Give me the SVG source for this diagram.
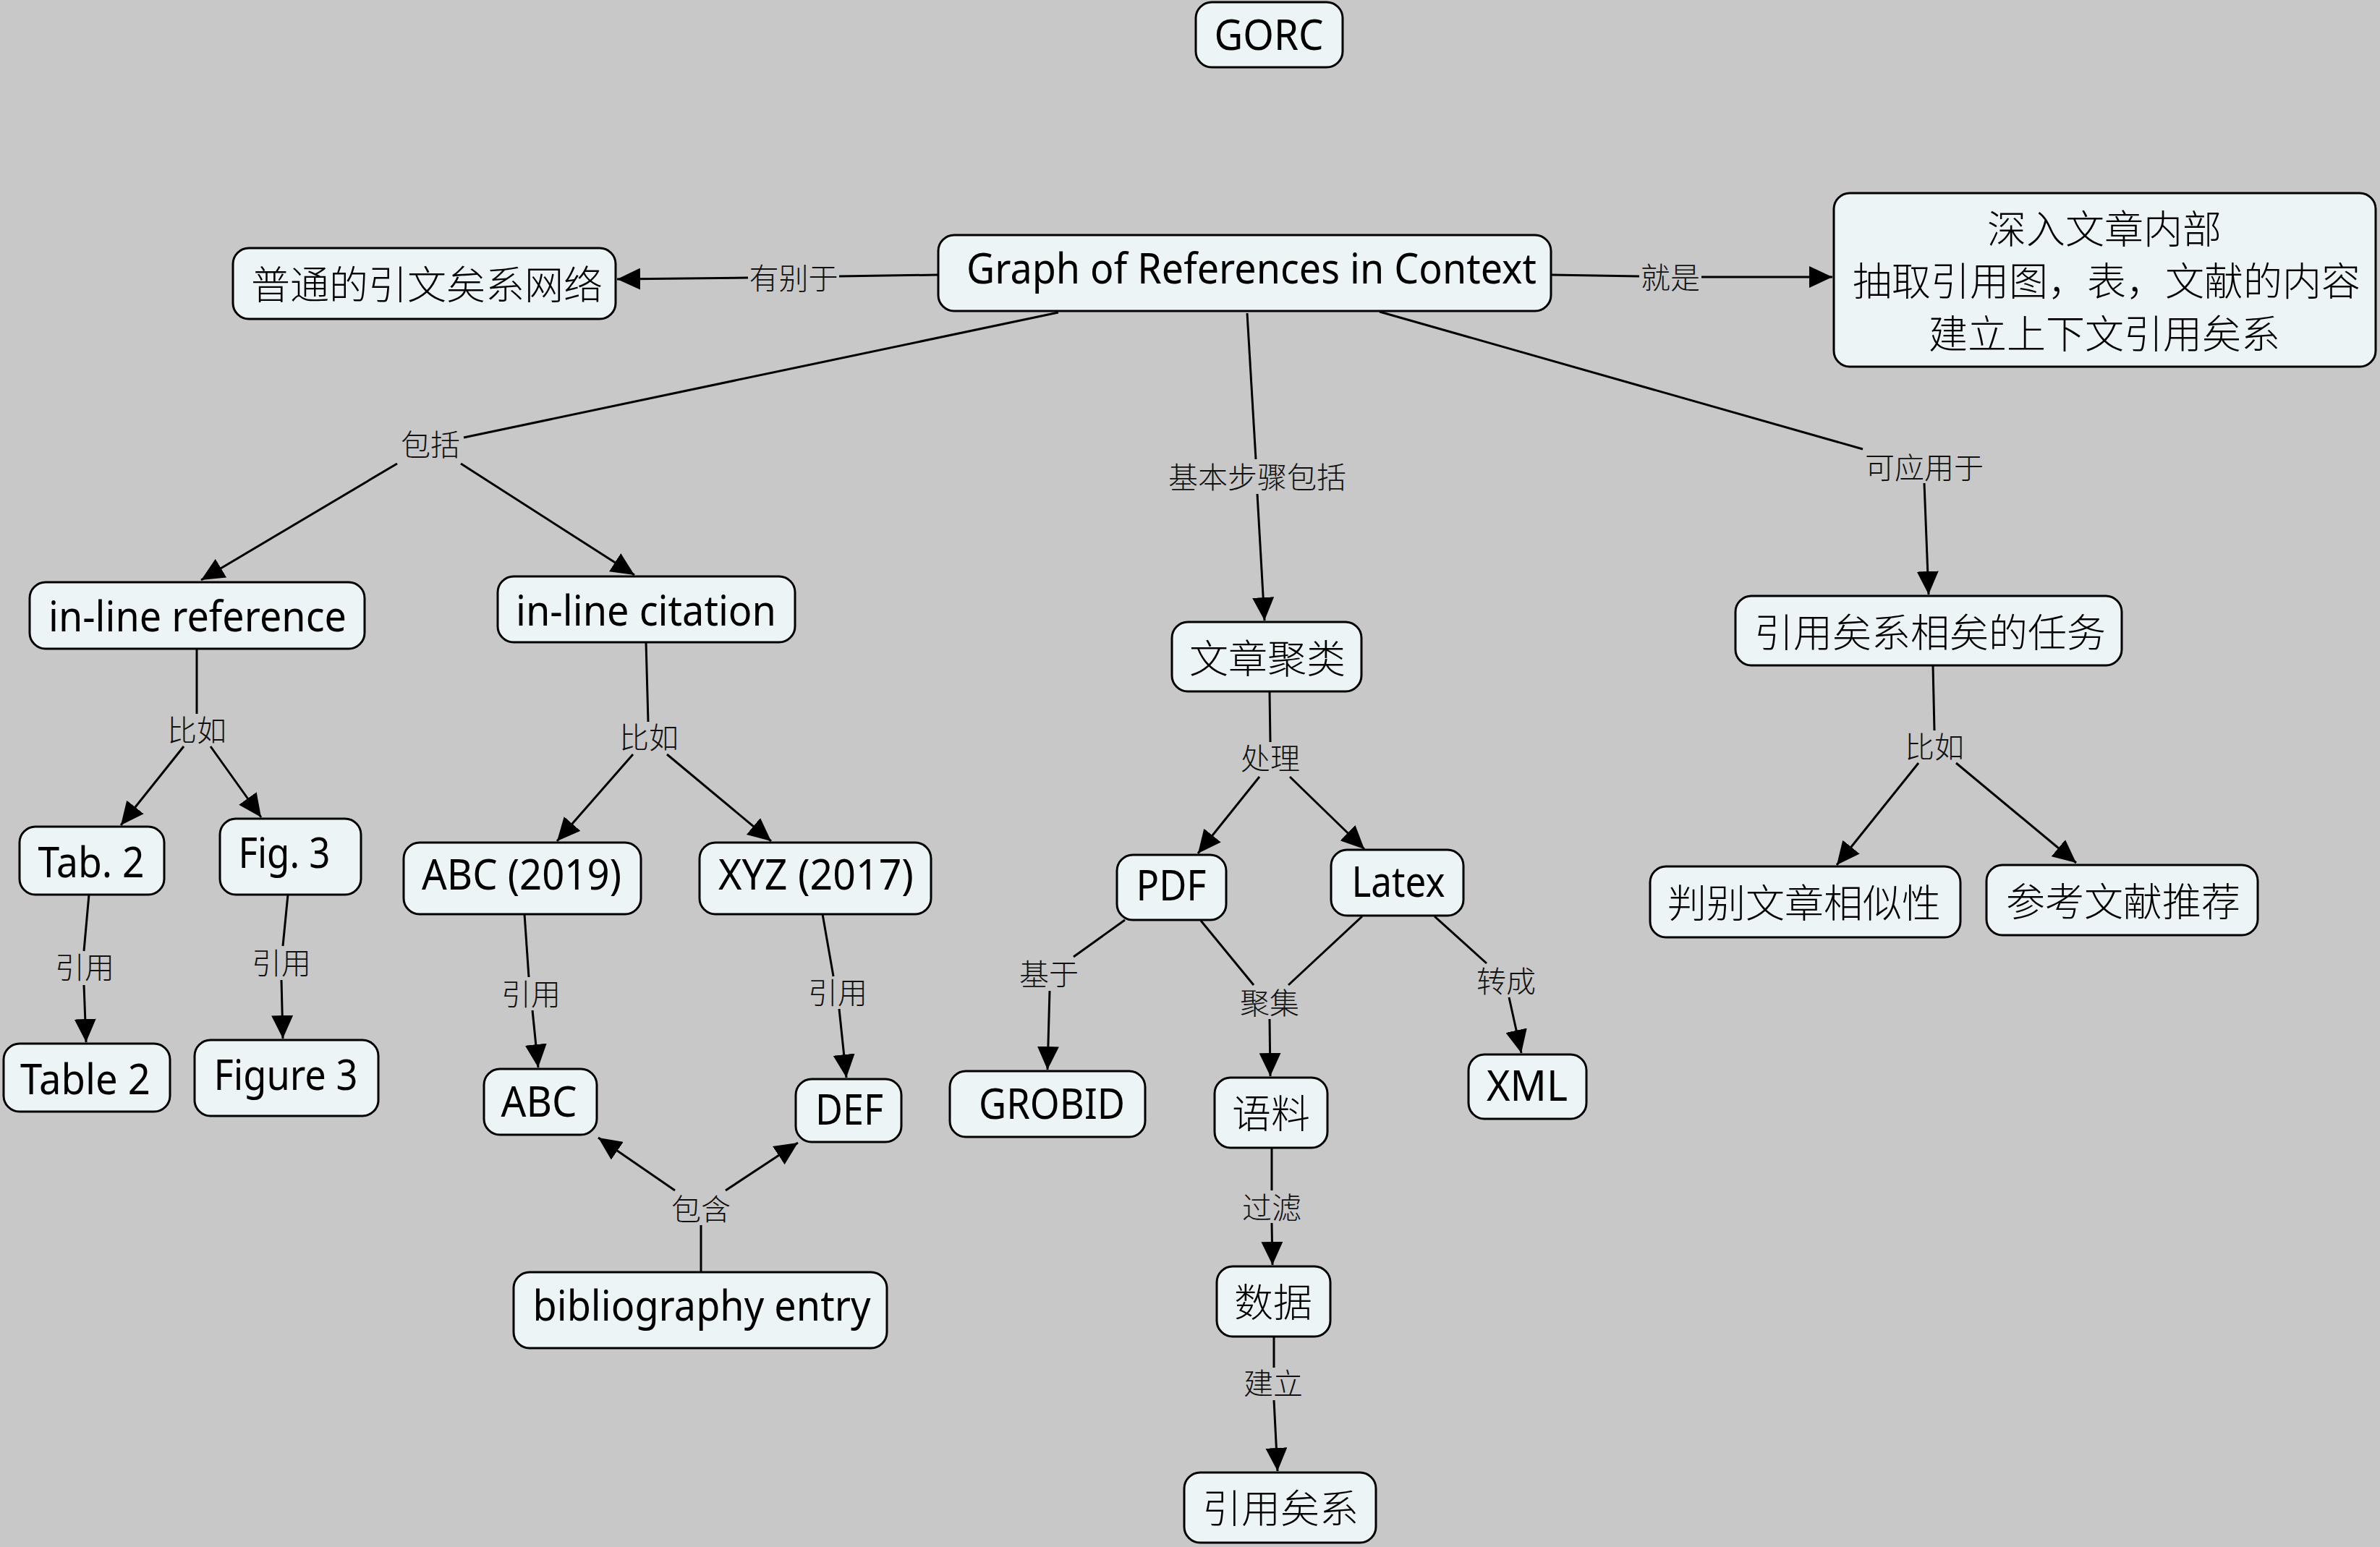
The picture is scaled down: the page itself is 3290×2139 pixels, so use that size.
<svg xmlns="http://www.w3.org/2000/svg" width="3290" height="2139" viewBox="0 0 3290 2139">
<style>
.bg{fill:#C8C8C8}
.node rect{fill:#EDF4F6;stroke:#000;stroke-width:3}
.lat{font-family:"Noto Sans","Noto Sans CJK SC",sans-serif;font-size:58px;text-anchor:middle;fill:#000}
.cjk{font-family:"Noto Sans CJK SC",sans-serif;font-size:54px;font-weight:300;text-anchor:middle;dominant-baseline:central;fill:#000;transform:translate(0px,-2px)}
.lbl{font-family:"Noto Sans CJK SC",sans-serif;font-size:41px;font-weight:300;text-anchor:middle;dominant-baseline:central;fill:#111;transform:translate(0px,-3px)}
.edges line,.edges polyline{stroke:#000;stroke-width:3;fill:none}
.arr{marker-end:url(#ah)}
</style>
<defs>
<marker id="ah" viewBox="0 0 32 30" markerWidth="32" markerHeight="30" refX="32" refY="15" orient="auto" markerUnits="userSpaceOnUse">
<path d="M0,0 L32,15 L0,30 z" fill="#000"/>
</marker>
</defs>
<rect class="bg" x="0" y="0" width="3290" height="2139"/>

<g id="connectors" class="edges">
<line x1="1297" y1="380" x2="1160" y2="382"/>
<line class="arr" x1="1034" y1="384" x2="853" y2="386"/>
<text class="lbl" x="1097" y="385">有别于</text>
<line x1="2144" y1="380" x2="2266" y2="382"/>
<line class="arr" x1="2352" y1="383" x2="2533" y2="383"/>
<text class="lbl" x="2309" y="384">就是</text>
<line x1="1463" y1="432" x2="641" y2="605"/>
<text class="lbl" x="595" y="615">包括</text>
<line class="arr" x1="549" y1="641" x2="278" y2="802"/>
<line class="arr" x1="637" y1="641" x2="877" y2="795"/>
<line x1="1724" y1="433" x2="1736" y2="635"/>
<text class="lbl" x="1738" y="660">基本步骤包括</text>
<line class="arr" x1="1738" y1="683" x2="1748" y2="858"/>
<line x1="1907" y1="431" x2="2575" y2="621"/>
<text class="lbl" x="2660" y="647">可应用于</text>
<line class="arr" x1="2660" y1="668" x2="2666" y2="822"/>
<line x1="272" y1="897" x2="272" y2="987"/>
<text class="lbl" x="272" y="1010">比如</text>
<line class="arr" x1="254" y1="1032" x2="167" y2="1141"/>
<line class="arr" x1="291" y1="1032" x2="361" y2="1130"/>
<line x1="893" y1="888" x2="896" y2="998"/>
<text class="lbl" x="897" y="1020">比如</text>
<line class="arr" x1="875" y1="1043" x2="770" y2="1163"/>
<line class="arr" x1="922" y1="1043" x2="1066" y2="1163"/>
<line x1="123" y1="1237" x2="116" y2="1315"/>
<text class="lbl" x="117" y="1338">引用</text>
<line class="arr" x1="116" y1="1362" x2="119" y2="1441"/>
<line x1="398" y1="1237" x2="391" y2="1308"/>
<text class="lbl" x="389" y="1332">引用</text>
<line class="arr" x1="389" y1="1355" x2="391" y2="1436"/>
<line x1="725" y1="1264" x2="731" y2="1351"/>
<text class="lbl" x="734" y="1375">引用</text>
<line class="arr" x1="736" y1="1397" x2="744" y2="1476"/>
<polyline points="1137,1264 1151,1344 1152,1350"/>
<text class="lbl" x="1158" y="1373">引用</text>
<line class="arr" x1="1160" y1="1395" x2="1170" y2="1490"/>
<line x1="969" y1="1759" x2="969" y2="1694"/>
<text class="lbl" x="969" y="1672">包含</text>
<line class="arr" x1="933" y1="1646" x2="827" y2="1573"/>
<line class="arr" x1="1003" y1="1646" x2="1103" y2="1580"/>
<line x1="1755" y1="956" x2="1756" y2="1026"/>
<text class="lbl" x="1756" y="1049">处理</text>
<line class="arr" x1="1741" y1="1074" x2="1656" y2="1180"/>
<line class="arr" x1="1783" y1="1074" x2="1886" y2="1174"/>
<line x1="1555" y1="1272" x2="1484" y2="1323"/>
<text class="lbl" x="1450" y="1347">基于</text>
<line class="arr" x1="1451" y1="1370" x2="1448" y2="1479"/>
<line x1="1660" y1="1273" x2="1733" y2="1362"/>
<line x1="1883" y1="1267" x2="1781" y2="1362"/>
<text class="lbl" x="1755" y="1387">聚集</text>
<line class="arr" x1="1755" y1="1409" x2="1756" y2="1488"/>
<line x1="1983" y1="1267" x2="2055" y2="1332"/>
<text class="lbl" x="2082" y="1357">转成</text>
<line class="arr" x1="2086" y1="1379" x2="2103" y2="1456"/>
<line x1="1758" y1="1587" x2="1758" y2="1646"/>
<text class="lbl" x="1758" y="1670">过滤</text>
<line class="arr" x1="1758" y1="1691" x2="1759" y2="1749"/>
<line x1="1761" y1="1848" x2="1761" y2="1891"/>
<text class="lbl" x="1760" y="1913">建立</text>
<line class="arr" x1="1761" y1="1936" x2="1766" y2="2034"/>
<line x1="2672" y1="920" x2="2674" y2="1010"/>
<text class="lbl" x="2674" y="1033">比如</text>
<line class="arr" x1="2652" y1="1055" x2="2539" y2="1196"/>
<line class="arr" x1="2704" y1="1055" x2="2870" y2="1193"/>
</g>

<g id="n-gorc" class="node"><rect x="1653" y="3" width="203" height="90" rx="22"/><text class="lat" x="1754" y="69" textLength="151" lengthAdjust="spacingAndGlyphs">GORC</text></g>
<g id="n-graph" class="node"><rect x="1297" y="325" width="847" height="105" rx="22"/><text class="lat" x="1730" y="392" textLength="788" lengthAdjust="spacingAndGlyphs">Graph of References in Context</text></g>
<g id="n-normal" class="node"><rect x="322" y="343" width="529" height="98" rx="22"/><text class="cjk" x="590" y="392">普通的引文矣系网络</text></g>
<g id="n-deep" class="node"><rect x="2535" y="267" width="749" height="240" rx="22"/>
<text class="cjk" x="2909" y="315">深入文章内部</text>
<text class="cjk" x="2912" y="387">抽取引用图，表，文献的内容</text>
<text class="cjk" x="2909" y="460">建立上下文引用矣系</text></g>
<g id="n-inref" class="node"><rect x="41" y="805" width="463" height="92" rx="22"/><text class="lat" x="273" y="873" textLength="412" lengthAdjust="spacingAndGlyphs">in-line reference</text></g>
<g id="n-incite" class="node"><rect x="688" y="797" width="411" height="91" rx="22"/><text class="lat" x="893" y="865" textLength="360" lengthAdjust="spacingAndGlyphs">in-line citation</text></g>
<g id="n-tab2" class="node"><rect x="27" y="1143" width="200" height="94" rx="22"/><text class="lat" x="126" y="1213" textLength="147" lengthAdjust="spacingAndGlyphs">Tab. 2</text></g>
<g id="n-fig3" class="node"><rect x="304" y="1132" width="195" height="105" rx="22"/><text class="lat" x="393" y="1200" textLength="127" lengthAdjust="spacingAndGlyphs">Fig. 3</text></g>
<g id="n-table2" class="node"><rect x="5" y="1443" width="230" height="94" rx="22"/><text class="lat" x="118" y="1513" textLength="180" lengthAdjust="spacingAndGlyphs">Table 2</text></g>
<g id="n-figure3" class="node"><rect x="269" y="1438" width="254" height="105" rx="22"/><text class="lat" x="395" y="1507" textLength="199" lengthAdjust="spacingAndGlyphs">Figure 3</text></g>
<g id="n-abc2019" class="node"><rect x="558" y="1165" width="328" height="99" rx="22"/><text class="lat" x="721" y="1230" textLength="276" lengthAdjust="spacingAndGlyphs">ABC (2019)</text></g>
<g id="n-xyz2017" class="node"><rect x="967" y="1165" width="320" height="99" rx="22"/><text class="lat" x="1128" y="1230" textLength="270" lengthAdjust="spacingAndGlyphs">XYZ (2017)</text></g>
<g id="n-abc" class="node"><rect x="669" y="1478" width="156" height="91" rx="22"/><text class="lat" x="745" y="1544" textLength="105" lengthAdjust="spacingAndGlyphs">ABC</text></g>
<g id="n-def" class="node"><rect x="1100" y="1492" width="146" height="87" rx="22"/><text class="lat" x="1174" y="1555" textLength="94" lengthAdjust="spacingAndGlyphs">DEF</text></g>
<g id="n-bib" class="node"><rect x="710" y="1759" width="516" height="105" rx="22"/><text class="lat" x="970" y="1826" textLength="467" lengthAdjust="spacingAndGlyphs">bibliography entry</text></g>
<g id="n-cluster" class="node"><rect x="1620" y="860" width="262" height="96" rx="22"/><text class="cjk" x="1752" y="909">文章聚类</text></g>
<g id="n-tasks" class="node"><rect x="2399" y="824" width="534" height="96" rx="22"/><text class="cjk" x="2668" y="873">引用矣系相矣的任务</text></g>
<g id="n-pdf" class="node"><rect x="1544" y="1182" width="151" height="90" rx="22"/><text class="lat" x="1619" y="1245" textLength="97" lengthAdjust="spacingAndGlyphs">PDF</text></g>
<g id="n-latex" class="node"><rect x="1840" y="1175" width="183" height="91" rx="22"/><text class="lat" x="1933" y="1240" textLength="129" lengthAdjust="spacingAndGlyphs">Latex</text></g>
<g id="n-grobid" class="node"><rect x="1313" y="1481" width="270" height="91" rx="22"/><text class="lat" x="1454" y="1547" textLength="202" lengthAdjust="spacingAndGlyphs">GROBID</text></g>
<g id="n-corpus" class="node"><rect x="1679" y="1490" width="156" height="97" rx="22"/><text class="cjk" x="1757" y="1538">语料</text></g>
<g id="n-xml" class="node"><rect x="2030" y="1458" width="163" height="89" rx="22"/><text class="lat" x="2111" y="1522" textLength="112" lengthAdjust="spacingAndGlyphs">XML</text></g>
<g id="n-data" class="node"><rect x="1682" y="1751" width="157" height="97" rx="22"/><text class="cjk" x="1760" y="1799">数据</text></g>
<g id="n-rel" class="node"><rect x="1637" y="2036" width="265" height="97" rx="22"/><text class="cjk" x="1770" y="2084">引用矣系</text></g>
<g id="n-sim" class="node"><rect x="2281" y="1198" width="429" height="98" rx="22"/><text class="cjk" x="2494" y="1247">判别文章相似性</text></g>
<g id="n-rec" class="node"><rect x="2746" y="1196" width="375" height="97" rx="22"/><text class="cjk" x="2935" y="1245">参考文献推荐</text></g>
</svg>
